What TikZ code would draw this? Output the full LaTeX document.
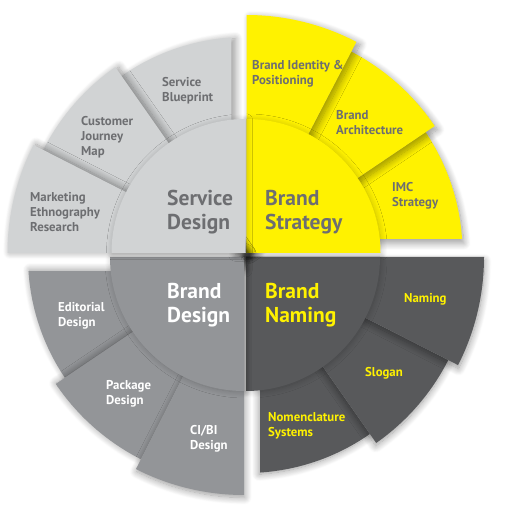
\documentclass[tikz,border=0pt]{standalone}
\usepackage{fontspec}
\setmainfont{PT Sans}
\usetikzlibrary{shadows.blur,calc}
\definecolor{lgray}{HTML}{D1D3D4}
\definecolor{ylw}{HTML}{FFF200}
\definecolor{mgray}{HTML}{939598}
\definecolor{dgray}{HTML}{58595B}
\definecolor{tgray}{HTML}{6D6E71}
\tikzset{
  sh/.style 2 args={blur shadow={shadow xshift=#1pt, shadow yshift=#2pt, shadow blur radius=7pt, shadow blur steps=12, shadow opacity=40}},
  glow/.style={blur shadow={shadow xshift=1pt, shadow yshift=-1pt, shadow blur radius=6pt, shadow blur steps=12, shadow opacity=22}},
  small/.style={anchor=west, align=left, inner sep=0pt, font=\fontsize{12.8}{15}\selectfont\bfseries},
  big/.style={anchor=west, align=left, inner sep=0pt, font=\fontsize{21.5}{24.5}\selectfont\bfseries},
}
\begin{document}
\begin{tikzpicture}[x=1pt,y=1pt]
\useasboundingbox (0,0) rectangle (510,522);
\coordinate (ctl) at (245.5,269);
\coordinate (ctr) at (246.5,269);
\coordinate (cbl) at (244,265);
\coordinate (cbr) at (246,265);

% ---------- bottom right: Brand Naming ----------
\fill[dgray, sh={-1}{-1.7}] (cbr) -- ++(-55:216) arc[start angle=-55, end angle=-86.28, radius=216] -- ($(cbr)+(0:14)$) -- cycle;
\fill[dgray, sh={-0.5}{-2.9}] (cbr) -- ++(-27:227) arc[start angle=-27, end angle=-55, radius=227] -- cycle;
\fill[dgray, sh={0.4}{-3.7}] (cbr) -- ++(0:238) arc[start angle=0, end angle=-27, radius=238] -- cycle;
\fill[dgray, glow] (cbr) -- ++(0:134) arc[start angle=0, end angle=-90, radius=134] -- cycle;

% ---------- bottom left: Brand Design ----------
\fill[mgray, sh={1.3}{1}] (cbl) -- ++(214:216) arc[start angle=214, end angle=183.72, radius=216] -- ($(cbl)+(270:14)$) -- cycle;
\fill[mgray, sh={0.1}{0.6}] (cbl) -- ++(243:227) arc[start angle=243, end angle=214, radius=227] -- cycle;
\fill[mgray, sh={0.8}{-2.5}] (cbl) -- ++(270:238) arc[start angle=270, end angle=243, radius=238] -- cycle;
\fill[mgray, glow] (cbl) -- ++(270:134) arc[start angle=270, end angle=180, radius=134] -- cycle;

% ---------- top right: Brand Strategy ----------
\fill[ylw, sh={1.7}{-4}] (ctr) -- ++(34:216) arc[start angle=34, end angle=3.72, radius=216] -- ($(ctr)+(90:14)$) -- cycle;
\fill[ylw, sh={2.9}{-3.6}] (ctr) -- ++(62.5:227) arc[start angle=62.5, end angle=34, radius=227] -- cycle;
\fill[ylw, sh={3.7}{-2.7}] (ctr) -- ++(90:238) arc[start angle=90, end angle=62.5, radius=238] -- cycle;
\fill[ylw, glow] (ctr) -- ++(90:134) arc[start angle=90, end angle=0, radius=134] -- cycle;

% ---------- top left: Service Design ----------
\fill[lgray, sh={4}{-1.3}] (ctl) -- ++(125:216) arc[start angle=125, end angle=93.72, radius=216] -- ($(ctl)+(180:14)$) -- cycle;
\fill[lgray, sh={3.5}{-0.1}] (ctl) -- ++(153:227) arc[start angle=153, end angle=125, radius=227] -- cycle;
\fill[lgray, sh={2.6}{0.7}] (ctl) -- ++(180:238) arc[start angle=180, end angle=153, radius=238] -- cycle;
\fill[lgray, glow] (ctl) -- ++(180:134) arc[start angle=180, end angle=90, radius=134] -- cycle;

% ---------- labels ----------
\node[small, text=tgray] (sb) at (162,431.5) {Service\\Blueprint};
\node[small, text=tgray] (cj) at (81,385) {Customer\\Journey\\Map};
\node[small, text=tgray] (me) at (30,310) {Marketing\\Ethnography\\Research};
\node[big, text=tgray] (sd) at (167,310) {Service\\Design};

\node[big, text=tgray] (bs) at (265,310) {Brand\\Strategy};
\node[small, text=tgray] (bi) at (252,448.5) {Brand Identity \&\\Positioning};
\node[small, text=tgray] (ba) at (336,399) {Brand\\Architecture};
\node[small, text=tgray] (imc) at (392,326.5) {IMC\\Strategy};

\node[big, text=ylw] (bn) at (265,217) {Brand\\Naming};
\node[small, text=ylw] (nm) at (404,223) {Naming};
\node[small, text=ylw] (sl) at (365,149) {Slogan};
\node[small, text=ylw] (ns) at (268,96.5) {Nomenclature\\Systems};

\node[big, text=white] (bd) at (167,217) {Brand\\Design};
\node[small, text=white] (ed) at (58,206.5) {Editorial\\Design};
\node[small, text=white] (pd) at (106,128) {Package\\Design};
\node[small, text=white] (ci) at (190,83) {CI/BI\\Design};
\end{tikzpicture}
\end{document}
